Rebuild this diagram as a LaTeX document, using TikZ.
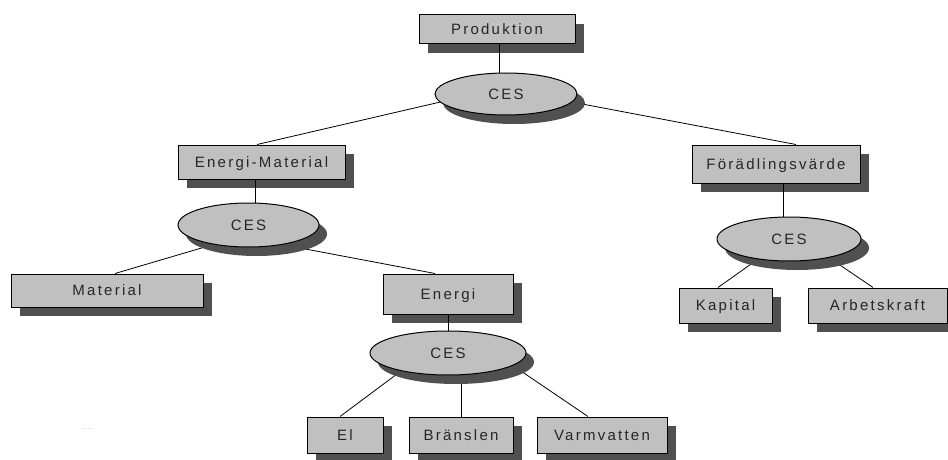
\documentclass[tikz,border=0pt]{standalone}
\usepackage{fontspec}
\setmainfont{Liberation Sans}[LetterSpace=15]
\usetikzlibrary{shapes.geometric,shadows}
\definecolor{boxfill}{RGB}{192,192,192}
\definecolor{shadowc}{RGB}{80,80,80}
\pgfdeclarelayer{boxes}
\pgfdeclarelayer{lines}
\pgfsetlayers{boxes,lines,main}
\begin{document}
\begin{tikzpicture}[x=1pt,y=-1pt,
  every node/.style={font=\fontsize{15}{17}\selectfont, text=black!85, inner sep=0pt, text height=10.8pt, text depth=0pt},
  boxnode/.style={rectangle, draw=black, line width=1pt, fill=boxfill,
    drop shadow={shadow xshift=9pt,shadow yshift=-9pt,fill=shadowc,opacity=1}},
  cesnode/.style={ellipse, draw=black, line width=1pt, fill=boxfill,
    drop shadow={shadow xshift=8pt,shadow yshift=-9pt,fill=shadowc,opacity=1}},
  conn/.style={line width=0.8pt, draw=black}]
\useasboundingbox (0,0) rectangle (948,460);

% ellipses (top layer)
\node[cesnode, minimum width=142pt, minimum height=42pt] (ces1) at (506,94) {CES};
\node[cesnode, minimum width=141pt, minimum height=44pt] (ces2) at (248.5,225) {CES};
\node[cesnode, minimum width=156pt, minimum height=44pt] (ces3) at (448,353) {CES};
\node[cesnode, minimum width=144pt, minimum height=44pt] (ces4) at (789,239) {CES};

\begin{pgfonlayer}{boxes}
\node[boxnode, minimum width=156pt, minimum height=29pt] (prod) at (497,29.5) {Produktion};
\node[boxnode, minimum width=167pt, minimum height=34pt] (em) at (261.5,162) {Energi-Material};
\node[boxnode, minimum width=168pt, minimum height=38pt] (fv) at (776,164) {Förädlingsvärde};
\node[boxnode, minimum width=192pt, minimum height=33pt] (mat) at (107,290.5) {Material};
\node[boxnode, minimum width=130pt, minimum height=40pt] (en) at (448,294) {Energi};
\node[boxnode, minimum width=93pt, minimum height=35pt] (kap) at (725.5,305.5) {Kapital};
\node[boxnode, minimum width=139pt, minimum height=35pt] (arb) at (877.5,305.5) {Arbetskraft};
\node[boxnode, minimum width=76pt, minimum height=36pt] (el) at (345,435) {El};
\node[boxnode, minimum width=104pt, minimum height=36pt] (br) at (461,435) {Bränslen};
\node[boxnode, minimum width=130pt, minimum height=36pt] (vv) at (602,435) {Varmvatten};
\node[font=\fontsize{5}{5}\selectfont, text=black!60, text height=2pt, text depth=0pt] (dots) at (86.5,428) {.....};
\end{pgfonlayer}

\begin{pgfonlayer}{lines}
\draw[conn] ([xshift=2pt]prod.south) -- ([xshift=2pt]prod.south |- ces1.center);
\draw[conn] (ces1.187) -- ([xshift=-4.5pt]em.north);
\draw[conn] (ces1.353) -- ([xshift=20pt]fv.north);
\draw[conn] ([xshift=-6.5pt]em.south) -- ([xshift=-6.5pt]em.south |- ces2.center);
\draw[conn] (ces2.209.4) -- ([xshift=8pt]mat.north);
\draw[conn] (ces2.330) -- ([xshift=-13pt]en.north);
\draw[conn] ([xshift=7pt]fv.south) -- ([xshift=7pt]fv.south |- ces4.center);
\draw[conn] (ces4.213.2) -- ([xshift=-7.5pt]kap.north);
\draw[conn] (ces4.335.5) -- ([xshift=-4.5pt]arb.north);
\draw[conn] (en.south) -- (ces3.center);
\draw[conn] (ces3.201) -- ([xshift=-5pt]el.north);
\draw[conn] (br.north) -- (br.north |- ces3.center);
\draw[conn] (ces3.349.5) -- ([xshift=-14pt]vv.north);
\end{pgfonlayer}
\end{tikzpicture}
\end{document}
